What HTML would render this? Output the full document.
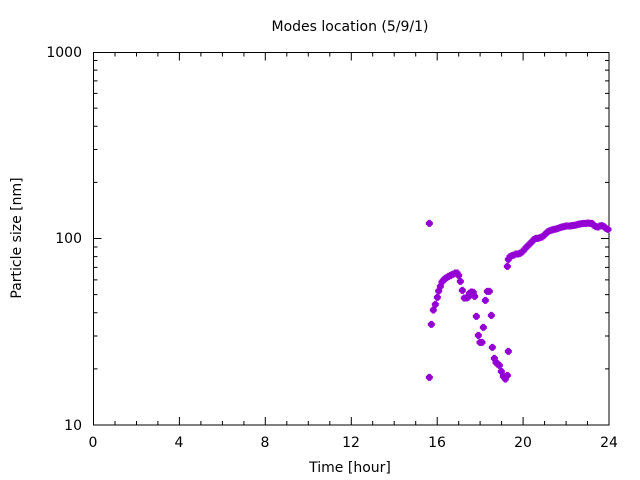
<!DOCTYPE html>
<html><head><meta charset="utf-8"><style>body{margin:0;background:#fff}svg{display:block}text{font-family:"DejaVu Sans","Liberation Sans",sans-serif;font-size:14px;fill:#000}</style></head><body>
<svg width="640" height="480" xmlns="http://www.w3.org/2000/svg">
<defs><path id="m" d="M-10.5,-4.5h21v9h-21z M-4.5,-10.5h9v21h-9z M-7.5,-7.5h15v15h-15z" fill="#9400D3"/></defs>
<rect width="640" height="480" fill="#fff"/>
<text x="350" y="31" text-anchor="middle">Modes location (5/9/1)</text>
<path stroke="#000" stroke-width="1" fill="none" d="
M93.5,425v-8M115,425v-4M136.5,425v-4M157.9,425v-4M179.4,425v-8M200.9,425v-4M222.4,425v-4M243.9,425v-4M265.3,425v-8M286.8,425v-4M308.3,425v-4M329.8,425v-4M351.3,425v-8M372.7,425v-4M394.2,425v-4M415.7,425v-4M437.2,425v-8M458.7,425v-4M480.1,425v-4M501.6,425v-4M523.1,425v-8M544.6,425v-4M566.1,425v-4M587.5,425v-4
M93.5,52.5v8M115,52.5v4M136.5,52.5v4M157.9,52.5v4M179.4,52.5v8M200.9,52.5v4M222.4,52.5v4M243.9,52.5v4M265.3,52.5v8M286.8,52.5v4M308.3,52.5v4M329.8,52.5v4M351.3,52.5v8M372.7,52.5v4M394.2,52.5v4M415.7,52.5v4M437.2,52.5v8M458.7,52.5v4M480.1,52.5v4M501.6,52.5v4M523.1,52.5v8M544.6,52.5v4M566.1,52.5v4M587.5,52.5v4
M93.5,368.9h4M93.5,336h4M93.5,312.7h4M93.5,294.6h4M93.5,279.9h4M93.5,267.4h4M93.5,256.6h4M93.5,247h4M93.5,238.5h8M93.5,182.4h4M93.5,149.5h4M93.5,126.2h4M93.5,108.1h4M93.5,93.4h4M93.5,80.9h4M93.5,70.1h4M93.5,60.5h4
M609,368.9h-4M609,336h-4M609,312.7h-4M609,294.6h-4M609,279.9h-4M609,267.4h-4M609,256.6h-4M609,247h-4M609,238.5h-8M609,182.4h-4M609,149.5h-4M609,126.2h-4M609,108.1h-4M609,93.4h-4M609,80.9h-4M609,70.1h-4M609,60.5h-4"/>
<rect x="93.5" y="52.5" width="515.5" height="372.5" fill="none" stroke="#000"/>
<g text-anchor="end">
<text x="82" y="57">1000</text><text x="82" y="243">100</text><text x="82" y="430">10</text>
</g>
<g text-anchor="middle">
<text x="93" y="447">0</text><text x="179" y="447">4</text><text x="265" y="447">8</text><text x="351" y="447">12</text><text x="437" y="447">16</text><text x="523" y="447">20</text><text x="609" y="447">24</text>
</g>
<text x="350" y="472" text-anchor="middle">Time [hour]</text>
<text transform="translate(21,238) rotate(-90)" text-anchor="middle">Particle size [nm]</text>
<g transform="translate(410,200) scale(0.33333)">
<use href="#m" x="58" y="70"/><use href="#m" x="58" y="532"/><use href="#m" x="64" y="373"/><use href="#m" x="70" y="330"/><use href="#m" x="76" y="313"/><use href="#m" x="82" y="292"/><use href="#m" x="86" y="273"/><use href="#m" x="91" y="259"/><use href="#m" x="96" y="246"/><use href="#m" x="101" y="240"/><use href="#m" x="106" y="235"/><use href="#m" x="111" y="232"/><use href="#m" x="116" y="229"/><use href="#m" x="121" y="227"/><use href="#m" x="126" y="224"/><use href="#m" x="131" y="222"/><use href="#m" x="136" y="219"/><use href="#m" x="141" y="219"/><use href="#m" x="146" y="226"/><use href="#m" x="151" y="244"/><use href="#m" x="157" y="271"/><use href="#m" x="163" y="294"/><use href="#m" x="169" y="294"/><use href="#m" x="174" y="292"/><use href="#m" x="178" y="280"/><use href="#m" x="184" y="276"/><use href="#m" x="190" y="277"/><use href="#m" x="194" y="289"/><use href="#m" x="199" y="349"/><use href="#m" x="205" y="406"/><use href="#m" x="210" y="427"/><use href="#m" x="216" y="427"/><use href="#m" x="220" y="382"/><use href="#m" x="226" y="301"/><use href="#m" x="232" y="274"/><use href="#m" x="238" y="274"/><use href="#m" x="244" y="346"/><use href="#m" x="247" y="442"/><use href="#m" x="253" y="475"/><use href="#m" x="258" y="487"/><use href="#m" x="263" y="492"/><use href="#m" x="268" y="496"/><use href="#m" x="274" y="514"/><use href="#m" x="280" y="529"/><use href="#m" x="286" y="537"/><use href="#m" x="292" y="526"/><use href="#m" x="295" y="454"/><use href="#m" x="292" y="199"/><use href="#m" x="295" y="178"/><use href="#m" x="300" y="170"/><use href="#m" x="306" y="167"/><use href="#m" x="312" y="165"/><use href="#m" x="318" y="162"/><use href="#m" x="324" y="162"/><use href="#m" x="330" y="160"/><use href="#m" x="336" y="156"/><use href="#m" x="342" y="150"/><use href="#m" x="348" y="143"/><use href="#m" x="354" y="137"/><use href="#m" x="360" y="131"/><use href="#m" x="366" y="125"/><use href="#m" x="372" y="118"/><use href="#m" x="378" y="115"/><use href="#m" x="384" y="115"/><use href="#m" x="390" y="113"/><use href="#m" x="396" y="111"/><use href="#m" x="402" y="106"/><use href="#m" x="408" y="100"/><use href="#m" x="414" y="95"/><use href="#m" x="420" y="92"/><use href="#m" x="426" y="90"/><use href="#m" x="432" y="88"/><use href="#m" x="438" y="87"/><use href="#m" x="444" y="85"/><use href="#m" x="450" y="83"/><use href="#m" x="456" y="81"/><use href="#m" x="462" y="80"/><use href="#m" x="468" y="78"/><use href="#m" x="474" y="78"/><use href="#m" x="480" y="78"/><use href="#m" x="486" y="77"/><use href="#m" x="492" y="76"/><use href="#m" x="498" y="75"/><use href="#m" x="504" y="73"/><use href="#m" x="510" y="72"/><use href="#m" x="516" y="71"/><use href="#m" x="522" y="70"/><use href="#m" x="528" y="70"/><use href="#m" x="534" y="69"/><use href="#m" x="540" y="70"/><use href="#m" x="546" y="70"/><use href="#m" x="552" y="76"/><use href="#m" x="558" y="80"/><use href="#m" x="564" y="81"/><use href="#m" x="570" y="78"/><use href="#m" x="576" y="77"/><use href="#m" x="582" y="80"/><use href="#m" x="588" y="85"/><use href="#m" x="594" y="88"/>
</g>
</svg>
</body></html>
